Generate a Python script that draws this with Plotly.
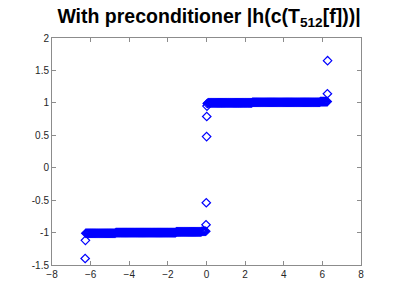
import numpy as np
import plotly.graph_objects as go

# Outlier points
edge_left_x = [-6.283, -6.27]
edge_left_y = [-1.40, -1.12]
near0_left_x = [-0.025, -0.012]
near0_left_y = [-0.88, -0.54]
near0_right_x = [0.005, 0.012, 0.025]
near0_right_y = [0.48, 0.79, 0.95]
edge_right_x = [6.26, 6.27]
edge_right_y = [1.14, 1.65]

# Dense band values (~ -1 on the left, ~ +1 on the right)
band_left_y = [
    -1.01, -1.01, -1.01, -1.01, -1.01, -1.01, -1.01, -1.01, -1.01, -1.01, -1.01, -1.01, -1.01, -1.01, -1.01, -1.01,
    -1.01, -1.01, -1.01, -1.01, -1.01, -1.01, -1.01, -1.01, -1.01, -1.01, -1.01, -1.01, -1.01, -1.01, -1.01, -1.01,
    -1.00, -1.00, -1.00, -1.00, -1.00, -1.00, -1.00, -1.00, -1.00, -1.00, -1.00, -1.00, -1.00, -1.00, -1.00, -1.00,
    -1.00, -1.00, -1.00, -1.00, -1.00, -1.00, -1.00, -1.00, -1.00, -1.00, -1.00, -1.00, -1.00, -1.00, -1.00, -1.00,
    -1.00, -1.00, -1.00, -1.00, -1.00, -1.00, -1.00, -1.00, -1.00, -1.00, -1.00, -1.00, -1.00, -1.00, -1.00, -1.00,
    -1.00, -1.00, -1.00, -1.00, -1.00, -1.00, -1.00, -1.00, -1.00, -1.00, -1.00, -1.00, -1.00, -1.00, -1.00, -1.00,
    -0.99, -0.99, -0.99, -0.99, -0.99, -0.99, -0.99, -0.99, -0.99, -0.99, -0.99, -0.99, -0.99, -0.99, -0.99, -0.99,
    -0.99, -0.99, -0.99, -0.99, -0.99, -0.99, -0.99, -0.99, -0.99, -0.99, -0.99, -0.98, -0.98, -0.98, -0.98, -0.98,
]
band_right_y = [
    0.99, 1.00, 1.00, 1.00, 1.00, 1.00, 1.00, 1.00, 1.00, 1.00, 1.00, 1.00, 1.00, 1.00, 1.00, 1.00,
    1.00, 1.00, 1.00, 1.00, 1.00, 1.00, 1.00, 1.00, 1.00, 1.00, 1.00, 1.00, 1.00, 1.00, 1.00, 1.00,
    1.00, 1.00, 1.00, 1.00, 1.00, 1.00, 1.00, 1.00, 1.00, 1.00, 1.00, 1.00, 1.00, 1.00, 1.00, 1.00,
    1.01, 1.01, 1.01, 1.01, 1.01, 1.01, 1.01, 1.01, 1.01, 1.01, 1.01, 1.01, 1.01, 1.01, 1.01, 1.01,
    1.01, 1.01, 1.01, 1.01, 1.01, 1.01, 1.01, 1.01, 1.01, 1.01, 1.01, 1.01, 1.01, 1.01, 1.01, 1.01,
    1.01, 1.01, 1.01, 1.01, 1.01, 1.01, 1.01, 1.01, 1.01, 1.01, 1.01, 1.01, 1.01, 1.01, 1.01, 1.01,
    1.01, 1.01, 1.01, 1.01, 1.01, 1.01, 1.01, 1.01, 1.01, 1.01, 1.01, 1.01, 1.01, 1.01, 1.01, 1.01,
    1.01, 1.01, 1.01, 1.01, 1.01, 1.01, 1.01, 1.01, 1.02, 1.02, 1.02, 1.02, 1.02, 1.02, 1.02, 1.02,
]
band_left_x = np.linspace(-6.25, -0.04, len(band_left_y))
band_right_x = np.linspace(0.04, 6.25, len(band_right_y))

x_ticks = [-8, -6, -4, -2, 0, 2, 4, 6, 8]
y_ticks = [-1.5, -1, -0.5, 0, 0.5, 1, 1.5, 2]
y_tick_text = ["-1.5", "-1", "-0.5", "0", "0.5", "1", "1.5", "2"]

xs = (list(edge_left_x) + list(band_left_x) + list(near0_left_x)
      + list(near0_right_x) + list(band_right_x) + list(edge_right_x))
ys = (edge_left_y + band_left_y + near0_left_y
      + near0_right_y + band_right_y + edge_right_y)

fig = go.Figure()
fig.add_trace(go.Scatter(
    x=xs, y=ys, mode="markers",
    marker=dict(symbol="diamond-open", size=6.5, color="#0000ff",
                line=dict(width=1.2, color="#0000ff")),
    showlegend=False,
))

axis_common = dict(
    showline=True, linecolor="#8c8c8c", linewidth=1, mirror="ticks",
    ticks="inside", ticklen=4, tickcolor="#8c8c8c", tickwidth=1,
    showgrid=False, zeroline=False,
    tickfont=dict(family="Liberation Sans, Arial, sans-serif", size=10, color="#262626"),
)

fig.update_layout(
    width=399, height=299,
    margin=dict(l=51.5, r=37.5, t=37.5, b=34),
    paper_bgcolor="white", plot_bgcolor="white",
    title=dict(
        text="<b>With preconditioner |h(c(T<sub>512</sub>[f]))|</b>",
        x=209 / 399, xanchor="center", y=1 - 16 / 299, yanchor="middle",
        font=dict(family="Liberation Sans, Arial, sans-serif", size=19.5, color="black"),
    ),
    xaxis=dict(range=[-8, 8], tickvals=x_ticks, **axis_common),
    yaxis=dict(range=[-1.5, 2], tickvals=y_ticks, ticktext=y_tick_text, **axis_common),
)

fig.write_html("out.html", config={"displayModeBar": False},
               post_script="document.body.style.margin='0';")
